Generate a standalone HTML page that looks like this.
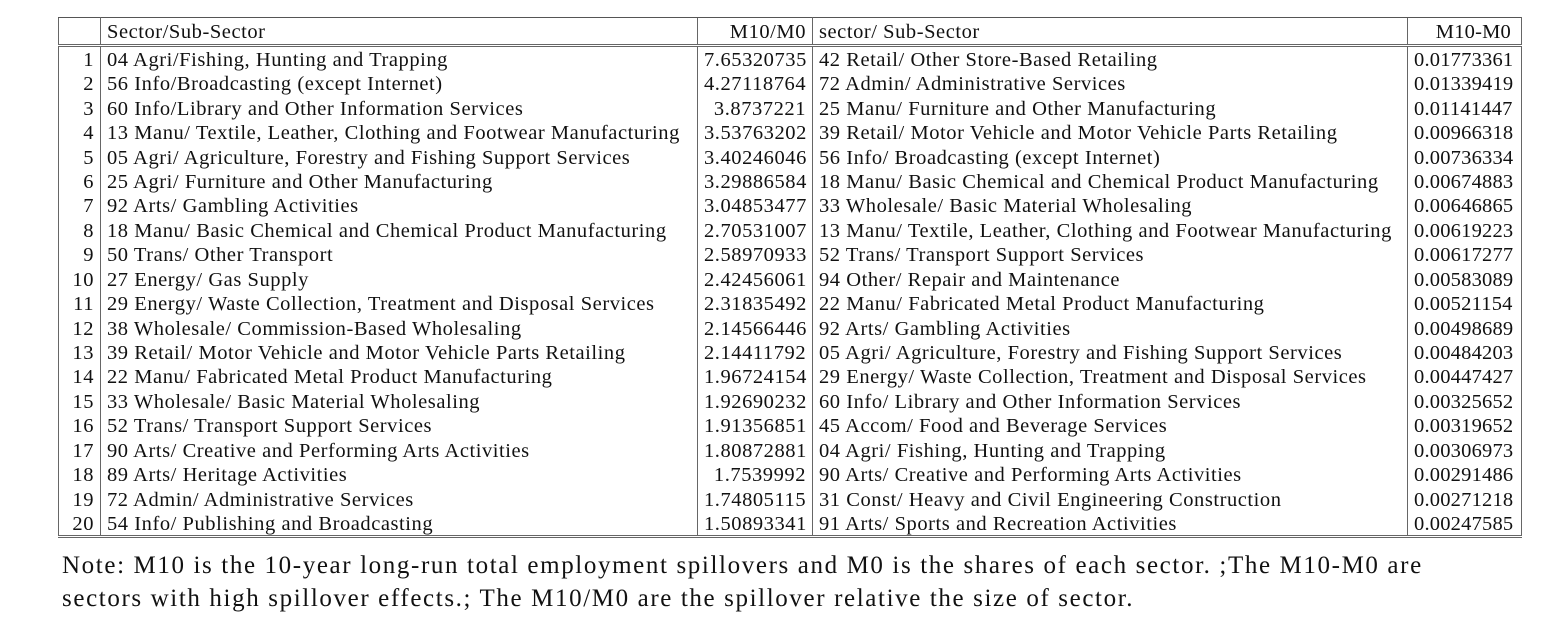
<!DOCTYPE html>
<html><head><meta charset="utf-8"><style>
body{margin:0;width:1556px;height:620px;background:#fff;overflow:hidden;font-family:"Liberation Serif",serif;color:#111}
#tbl{position:absolute;left:58px;top:17px;width:1463px;border-collapse:collapse;table-layout:fixed;font-size:20.5px;letter-spacing:0.55px}
#tbl td,#tbl th{padding:3px 6px 0 6px;white-space:nowrap;overflow:hidden;font-weight:normal;line-height:21px;height:24.45px;box-sizing:border-box}
#tbl th{height:28px;text-align:left;border-top:1px solid #555;padding-top:2px;line-height:24px}
#tbl tr.h th{border-bottom:3px double #666}
#tbl tr:last-child td{border-bottom:3px double #666}
.c0{border-left:1px solid #666;border-right:1px solid #666;text-align:right!important}
.c2{text-align:right!important;border-left:1px solid #666;border-right:1px solid #666}
.c4{text-align:right!important;border-left:1px solid #666;border-right:1px solid #666;padding-right:10px!important;letter-spacing:0.2px}
#note{position:absolute;left:62px;top:549px;font-size:25px;letter-spacing:1.62px;line-height:33px;width:1490px;white-space:nowrap}
</style></head><body>
<table id="tbl">
<colgroup><col style="width:42px"><col style="width:597px"><col style="width:115px"><col style="width:595px"><col style="width:114px"></colgroup>
<tr class="h"><th class="c0"></th><th>Sector/Sub-Sector</th><th class="c2">M10/M0</th><th>sector/ Sub-Sector</th><th class="c4">M10-M0</th></tr>
<tbody id="body"></tbody>
</table>
<div id="note">Note: M10 is the 10-year long-run total employment spillovers and M0 is the shares of each sector. ;The M10-M0 are<br>sectors with high spillover effects.; The M10/M0 are the spillover relative the size of sector.</div>
<script>
const sectorsA=["04 Agri/Fishing, Hunting and Trapping","56 Info/Broadcasting (except Internet)","60 Info/Library and Other Information Services","13 Manu/ Textile, Leather, Clothing and Footwear Manufacturing","05 Agri/ Agriculture, Forestry and Fishing Support Services","25 Agri/ Furniture and Other Manufacturing","92 Arts/ Gambling Activities","18 Manu/ Basic Chemical and Chemical Product Manufacturing","50 Trans/ Other Transport","27 Energy/ Gas Supply","29 Energy/ Waste Collection, Treatment and Disposal Services","38 Wholesale/ Commission-Based Wholesaling","39 Retail/ Motor Vehicle and Motor Vehicle Parts Retailing","22 Manu/ Fabricated Metal Product Manufacturing","33 Wholesale/ Basic Material Wholesaling","52 Trans/ Transport Support Services","90 Arts/ Creative and Performing Arts Activities","89 Arts/ Heritage Activities","72 Admin/ Administrative Services","54 Info/ Publishing and Broadcasting"];
const ratioVals=["7.65320735","4.27118764","3.8737221","3.53763202","3.40246046","3.29886584","3.04853477","2.70531007","2.58970933","2.42456061","2.31835492","2.14566446","2.14411792","1.96724154","1.92690232","1.91356851","1.80872881","1.7539992","1.74805115","1.50893341"];
const sectorsB=["42 Retail/ Other Store-Based Retailing","72 Admin/ Administrative Services","25 Manu/ Furniture and Other Manufacturing","39 Retail/ Motor Vehicle and Motor Vehicle Parts Retailing","56 Info/ Broadcasting (except Internet)","18 Manu/ Basic Chemical and Chemical Product Manufacturing","33 Wholesale/ Basic Material Wholesaling","13 Manu/ Textile, Leather, Clothing and Footwear Manufacturing","52 Trans/ Transport Support Services","94 Other/ Repair and Maintenance","22 Manu/ Fabricated Metal Product Manufacturing","92 Arts/ Gambling Activities","05 Agri/ Agriculture, Forestry and Fishing Support Services","29 Energy/ Waste Collection, Treatment and Disposal Services","60 Info/ Library and Other Information Services","45 Accom/ Food and Beverage Services","04 Agri/ Fishing, Hunting and Trapping","90 Arts/ Creative and Performing Arts Activities","31 Const/ Heavy and Civil Engineering Construction","91 Arts/ Sports and Recreation Activities"];
const diffVals=["0.01773361","0.01339419","0.01141447","0.00966318","0.00736334","0.00674883","0.00646865","0.00619223","0.00617277","0.00583089","0.00521154","0.00498689","0.00484203","0.00447427","0.00325652","0.00319652","0.00306973","0.00291486","0.00271218","0.00247585"];
const tb=document.getElementById('body');
for(let i=0;i<sectorsA.length;i++){
 const tr=document.createElement('tr');
 
 
 const vals=[String(i+1),sectorsA[i],ratioVals[i],sectorsB[i],diffVals[i]];
 const cls=['c0','','c2','','c4'];
 vals.forEach((v,j)=>{const td=document.createElement('td');td.textContent=v;if(cls[j])td.className=cls[j];
 
 
 tr.appendChild(td);});
 tb.appendChild(tr);
}
</script>
</body></html>
